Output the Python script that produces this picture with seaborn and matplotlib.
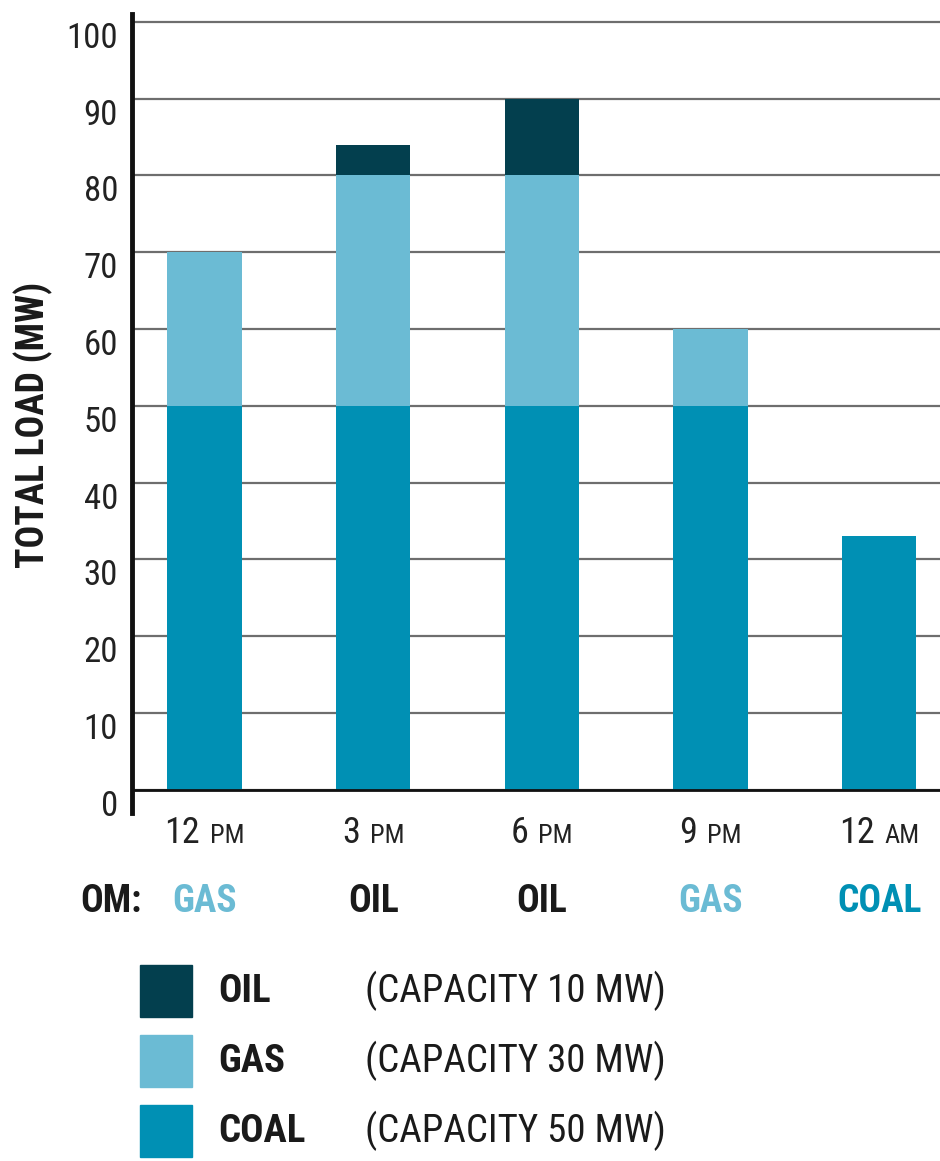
import numpy as np
import pandas as pd
import seaborn as sns
import matplotlib.pyplot as plt
from matplotlib.patches import Rectangle
from matplotlib.offsetbox import TextArea, HPacker, AnnotationBbox

# data
times = ['12 PM', '3 PM', '6 PM', '9 PM', '12 AM']
hours = ['12', '3', '6', '9', '12']
suffix = ['PM', 'PM', 'PM', 'PM', 'AM']
coal = [50, 50, 50, 50, 33]
gas = [20, 30, 30, 10, 0]
oil = [0, 4, 10, 0, 0]
marginal = ['GAS', 'OIL', 'OIL', 'GAS', 'COAL']
sources = ['OIL', 'GAS', 'COAL']
capacity = [10, 30, 50]
y_ticks = [0, 10, 20, 30, 40, 50, 60, 70, 80, 90, 100]

colors = {'OIL': '#033f4e', 'GAS': '#6bbbd4', 'COAL': '#0090b4'}
text_colors = {'OIL': '#1a1a1a', 'GAS': '#6bbbd4', 'COAL': '#0090b4'}
ink = '#1a1a1a'

sns.set_theme(style='white')
plt.rcParams['font.family'] = ['Roboto Condensed', 'DejaVu Sans']

df = pd.DataFrame({'time': times, 'COAL': coal, 'GAS': gas, 'OIL': oil})
df['gas_top'] = df['COAL'] + df['GAS']
df['oil_top'] = df['gas_top'] + df['OIL']

W, H = 940, 1161
fig = plt.figure(figsize=(W / 100, H / 100), dpi=100)
ax = fig.add_axes([132 / W, 1 - 813 / H, 1 - 132 / W, (813 - 14) / H])

# stacked bars: draw cumulative totals, top layer first
for col, src in [('oil_top', 'OIL'), ('gas_top', 'GAS'), ('COAL', 'COAL')]:
    sns.barplot(data=df, x='time', y=col, color=colors[src], width=0.44,
                saturation=1, linewidth=0, ax=ax, zorder=3)

ax.set_xlim(-0.43, 4.36)
ax.set_ylim(-3, 101)
ax.set_yticks(y_ticks)
ax.set_yticklabels([str(v) for v in y_ticks], fontsize=25, color='#222222')
for t in ax.get_yticklabels():
    t.set_va('top')
ax.tick_params(axis='y', length=0, pad=10)
ax.set_xticks(range(len(times)))
ax.set_xticklabels([])
ax.tick_params(axis='x', length=0)
ax.set_xlabel('')
ax.set_ylabel('')

ax.yaxis.grid(True, color='#6e6e6e', lw=1.6)
ax.set_axisbelow(True)
ax.axhline(0, color='#111111', lw=2, zorder=4)
for s in ['top', 'right', 'bottom']:
    ax.spines[s].set_visible(False)
ax.spines['left'].set_color('#111111')
ax.spines['left'].set_linewidth(3.5)

# time labels: hour plus small-caps suffix
for i, (h, s) in enumerate(zip(hours, suffix)):
    box = HPacker(children=[TextArea(h, textprops=dict(fontsize=26, color='#222222')),
                            TextArea(s, textprops=dict(fontsize=19, color='#222222'))],
                  sep=7, pad=0, align='baseline')
    ab = AnnotationBbox(box, (i, -0.002), xycoords=ax.get_xaxis_transform(),
                        box_alignment=(0.5, 1), frameon=False, pad=0)
    ax.add_artist(ab)

# marginal source row
fig.text(80 / W, 1 - 902 / H, 'OM:', fontsize=27, weight='bold', color=ink, va='center')
for i, m in enumerate(marginal):
    ax.text(i, -0.111, m, transform=ax.get_xaxis_transform(), ha='center', va='center',
            fontsize=27, weight='bold', color=text_colors[m])

fig.text(33 / W, 1 - 425 / H, 'TOTAL LOAD (MW)', rotation=90, ha='center', va='center',
         fontsize=27, weight='bold', color=ink)

# legend
for j, (src, cap) in enumerate(zip(sources, capacity)):
    yc = 991 + 70 * j
    fig.add_artist(Rectangle((140 / W, 1 - (yc + 26) / H), 52 / W, 52 / H,
                             transform=fig.transFigure, color=colors[src]))
    fig.text(218 / W, 1 - yc / H, src, fontsize=28, weight='bold', color=ink, va='center')
    fig.text(365 / W, 1 - yc / H, f'(CAPACITY {cap} MW)', fontsize=28, color=ink, va='center')

fig.savefig('out.png', dpi=100)
